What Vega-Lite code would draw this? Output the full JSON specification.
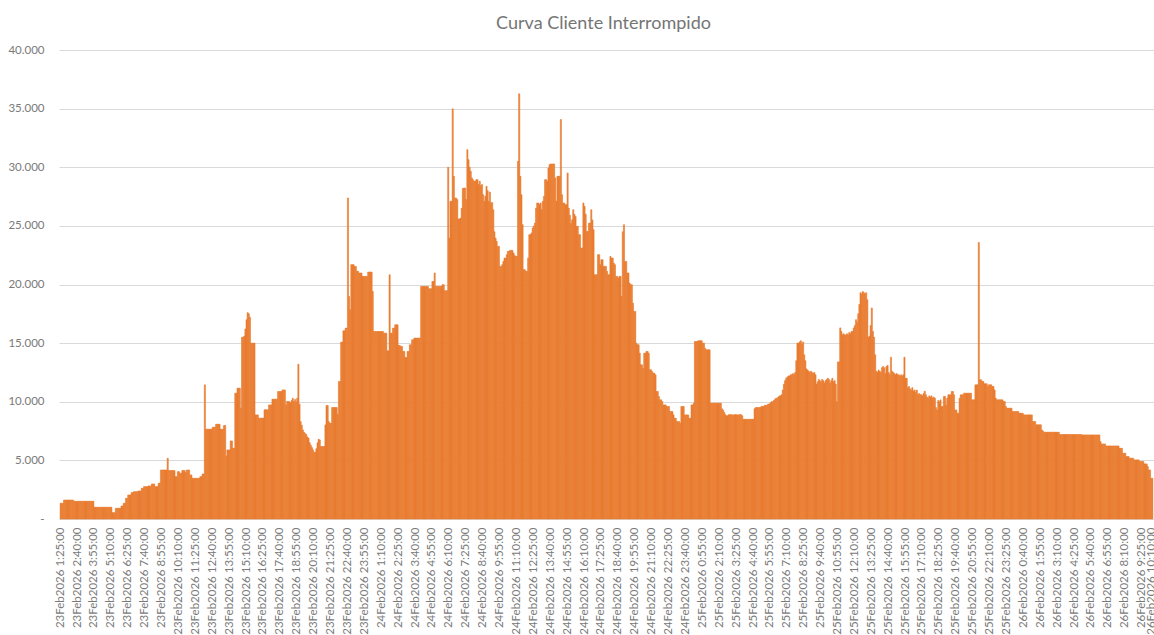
{
"$schema":"https://vega.github.io/schema/vega-lite/v6.json",
"width":1095,"height":469,
"autosize":{"type":"none"},
"padding":{"left":59,"top":50,"right":0,"bottom":116},
"background":"white",
"config":{"view":{"stroke":null},"font":"Lato"},
"title":{"text":"Curva Cliente Interrompido","fontSize":18,"font":"Lato","fontWeight":"normal","color":"#757575","anchor":"middle","baseline":"alphabetic","offset":19,"dx":-3,"dy":22},
"data":{"values":[
{"t":"23Feb2026 1:25:00","v":1340},{"t":"23Feb2026 1:30:00","v":1340},{"t":"23Feb2026 1:35:00","v":1340},{"t":"23Feb2026 1:40:00","v":1620},{"t":"23Feb2026 1:45:00","v":1620},{"t":"23Feb2026 1:50:00","v":1620},{"t":"23Feb2026 1:55:00","v":1620},
{"t":"23Feb2026 2:00:00","v":1620},{"t":"23Feb2026 2:05:00","v":1620},{"t":"23Feb2026 2:10:00","v":1620},{"t":"23Feb2026 2:15:00","v":1620},{"t":"23Feb2026 2:20:00","v":1620},{"t":"23Feb2026 2:25:00","v":1510},{"t":"23Feb2026 2:30:00","v":1510},{"t":"23Feb2026 2:35:00","v":1510},{"t":"23Feb2026 2:40:00","v":1510},{"t":"23Feb2026 2:45:00","v":1510},{"t":"23Feb2026 2:50:00","v":1510},{"t":"23Feb2026 2:55:00","v":1510},
{"t":"23Feb2026 3:00:00","v":1510},{"t":"23Feb2026 3:05:00","v":1510},{"t":"23Feb2026 3:10:00","v":1510},{"t":"23Feb2026 3:15:00","v":1510},{"t":"23Feb2026 3:20:00","v":1510},{"t":"23Feb2026 3:25:00","v":1510},{"t":"23Feb2026 3:30:00","v":1510},{"t":"23Feb2026 3:35:00","v":1510},{"t":"23Feb2026 3:40:00","v":1510},{"t":"23Feb2026 3:45:00","v":1510},{"t":"23Feb2026 3:50:00","v":1510},{"t":"23Feb2026 3:55:00","v":1000},
{"t":"23Feb2026 4:00:00","v":1000},{"t":"23Feb2026 4:05:00","v":1000},{"t":"23Feb2026 4:10:00","v":1000},{"t":"23Feb2026 4:15:00","v":1000},{"t":"23Feb2026 4:20:00","v":1000},{"t":"23Feb2026 4:25:00","v":1000},{"t":"23Feb2026 4:30:00","v":1000},{"t":"23Feb2026 4:35:00","v":1000},{"t":"23Feb2026 4:40:00","v":1000},{"t":"23Feb2026 4:45:00","v":1000},{"t":"23Feb2026 4:50:00","v":1000},{"t":"23Feb2026 4:55:00","v":1000},
{"t":"23Feb2026 5:00:00","v":1000},{"t":"23Feb2026 5:05:00","v":1000},{"t":"23Feb2026 5:10:00","v":1000},{"t":"23Feb2026 5:15:00","v":540},{"t":"23Feb2026 5:20:00","v":540},{"t":"23Feb2026 5:25:00","v":540},{"t":"23Feb2026 5:30:00","v":910},{"t":"23Feb2026 5:35:00","v":910},{"t":"23Feb2026 5:40:00","v":910},{"t":"23Feb2026 5:45:00","v":910},{"t":"23Feb2026 5:50:00","v":910},{"t":"23Feb2026 5:55:00","v":1110},
{"t":"23Feb2026 6:00:00","v":1110},{"t":"23Feb2026 6:05:00","v":1340},{"t":"23Feb2026 6:10:00","v":1340},{"t":"23Feb2026 6:15:00","v":1760},{"t":"23Feb2026 6:20:00","v":1760},{"t":"23Feb2026 6:25:00","v":2050},{"t":"23Feb2026 6:30:00","v":2050},{"t":"23Feb2026 6:35:00","v":2050},{"t":"23Feb2026 6:40:00","v":2250},{"t":"23Feb2026 6:45:00","v":2250},{"t":"23Feb2026 6:50:00","v":2330},{"t":"23Feb2026 6:55:00","v":2330},
{"t":"23Feb2026 7:00:00","v":2330},{"t":"23Feb2026 7:05:00","v":2330},{"t":"23Feb2026 7:10:00","v":2390},{"t":"23Feb2026 7:15:00","v":2390},{"t":"23Feb2026 7:20:00","v":2390},{"t":"23Feb2026 7:25:00","v":2620},{"t":"23Feb2026 7:30:00","v":2620},{"t":"23Feb2026 7:35:00","v":2760},{"t":"23Feb2026 7:40:00","v":2760},{"t":"23Feb2026 7:45:00","v":2760},{"t":"23Feb2026 7:50:00","v":2760},{"t":"23Feb2026 7:55:00","v":2820},
{"t":"23Feb2026 8:00:00","v":2820},{"t":"23Feb2026 8:05:00","v":2820},{"t":"23Feb2026 8:10:00","v":2990},{"t":"23Feb2026 8:15:00","v":2990},{"t":"23Feb2026 8:20:00","v":2990},{"t":"23Feb2026 8:25:00","v":2760},{"t":"23Feb2026 8:30:00","v":2760},{"t":"23Feb2026 8:35:00","v":2760},{"t":"23Feb2026 8:40:00","v":3050},{"t":"23Feb2026 8:45:00","v":3050},{"t":"23Feb2026 8:50:00","v":4180},{"t":"23Feb2026 8:55:00","v":4180},
{"t":"23Feb2026 9:00:00","v":4180},{"t":"23Feb2026 9:05:00","v":4180},{"t":"23Feb2026 9:10:00","v":4180},{"t":"23Feb2026 9:15:00","v":4180},{"t":"23Feb2026 9:20:00","v":5180},{"t":"23Feb2026 9:25:00","v":4130},{"t":"23Feb2026 9:30:00","v":4130},{"t":"23Feb2026 9:35:00","v":4130},{"t":"23Feb2026 9:40:00","v":4130},{"t":"23Feb2026 9:45:00","v":4130},{"t":"23Feb2026 9:50:00","v":4130},{"t":"23Feb2026 9:55:00","v":3610},
{"t":"23Feb2026 10:00:00","v":3610},{"t":"23Feb2026 10:05:00","v":4040},{"t":"23Feb2026 10:10:00","v":4040},{"t":"23Feb2026 10:15:00","v":3900},{"t":"23Feb2026 10:20:00","v":3900},{"t":"23Feb2026 10:25:00","v":4130},{"t":"23Feb2026 10:30:00","v":4130},{"t":"23Feb2026 10:35:00","v":4130},{"t":"23Feb2026 10:40:00","v":3960},{"t":"23Feb2026 10:45:00","v":4180},{"t":"23Feb2026 10:50:00","v":4180},{"t":"23Feb2026 10:55:00","v":4180},
{"t":"23Feb2026 11:00:00","v":3760},{"t":"23Feb2026 11:05:00","v":3760},{"t":"23Feb2026 11:10:00","v":3470},{"t":"23Feb2026 11:15:00","v":3470},{"t":"23Feb2026 11:20:00","v":3470},{"t":"23Feb2026 11:25:00","v":3470},{"t":"23Feb2026 11:30:00","v":3470},{"t":"23Feb2026 11:35:00","v":3470},{"t":"23Feb2026 11:40:00","v":3470},{"t":"23Feb2026 11:45:00","v":3610},{"t":"23Feb2026 11:50:00","v":3610},{"t":"23Feb2026 11:55:00","v":3840},
{"t":"23Feb2026 12:00:00","v":3840},{"t":"23Feb2026 12:05:00","v":11440},{"t":"23Feb2026 12:10:00","v":7660},{"t":"23Feb2026 12:15:00","v":7660},{"t":"23Feb2026 12:20:00","v":7660},{"t":"23Feb2026 12:25:00","v":7660},{"t":"23Feb2026 12:30:00","v":7660},{"t":"23Feb2026 12:35:00","v":7660},{"t":"23Feb2026 12:40:00","v":7830},{"t":"23Feb2026 12:45:00","v":7830},{"t":"23Feb2026 12:50:00","v":7830},{"t":"23Feb2026 12:55:00","v":8080},
{"t":"23Feb2026 13:00:00","v":8080},{"t":"23Feb2026 13:05:00","v":8080},{"t":"23Feb2026 13:10:00","v":8080},{"t":"23Feb2026 13:15:00","v":7660},{"t":"23Feb2026 13:20:00","v":7660},{"t":"23Feb2026 13:25:00","v":7660},{"t":"23Feb2026 13:30:00","v":7970},{"t":"23Feb2026 13:35:00","v":7970},{"t":"23Feb2026 13:40:00","v":5380},{"t":"23Feb2026 13:45:00","v":5890},{"t":"23Feb2026 13:50:00","v":5890},{"t":"23Feb2026 13:55:00","v":5890},
{"t":"23Feb2026 14:00:00","v":6660},{"t":"23Feb2026 14:05:00","v":6660},{"t":"23Feb2026 14:10:00","v":6030},{"t":"23Feb2026 14:15:00","v":6030},{"t":"23Feb2026 14:20:00","v":10730},{"t":"23Feb2026 14:25:00","v":10730},{"t":"23Feb2026 14:30:00","v":11160},{"t":"23Feb2026 14:35:00","v":11160},{"t":"23Feb2026 14:40:00","v":11160},{"t":"23Feb2026 14:45:00","v":9450},{"t":"23Feb2026 14:50:00","v":15500},{"t":"23Feb2026 14:55:00","v":15500},
{"t":"23Feb2026 15:00:00","v":15600},{"t":"23Feb2026 15:05:00","v":16200},{"t":"23Feb2026 15:10:00","v":17000},{"t":"23Feb2026 15:15:00","v":17600},{"t":"23Feb2026 15:20:00","v":17500},{"t":"23Feb2026 15:25:00","v":17200},{"t":"23Feb2026 15:30:00","v":15000},{"t":"23Feb2026 15:35:00","v":15000},{"t":"23Feb2026 15:40:00","v":15000},{"t":"23Feb2026 15:45:00","v":15000},{"t":"23Feb2026 15:50:00","v":8880},{"t":"23Feb2026 15:55:00","v":8880},
{"t":"23Feb2026 16:00:00","v":8880},{"t":"23Feb2026 16:05:00","v":8600},{"t":"23Feb2026 16:10:00","v":8600},{"t":"23Feb2026 16:15:00","v":8600},{"t":"23Feb2026 16:20:00","v":8600},{"t":"23Feb2026 16:25:00","v":8600},{"t":"23Feb2026 16:30:00","v":9310},{"t":"23Feb2026 16:35:00","v":9310},{"t":"23Feb2026 16:40:00","v":9310},{"t":"23Feb2026 16:45:00","v":9310},{"t":"23Feb2026 16:50:00","v":9730},{"t":"23Feb2026 16:55:00","v":9730},
{"t":"23Feb2026 17:00:00","v":9730},{"t":"23Feb2026 17:05:00","v":10220},{"t":"23Feb2026 17:10:00","v":10220},{"t":"23Feb2026 17:15:00","v":10220},{"t":"23Feb2026 17:20:00","v":10220},{"t":"23Feb2026 17:25:00","v":10220},{"t":"23Feb2026 17:30:00","v":10870},{"t":"23Feb2026 17:35:00","v":10870},{"t":"23Feb2026 17:40:00","v":10870},{"t":"23Feb2026 17:45:00","v":10870},{"t":"23Feb2026 17:50:00","v":11010},{"t":"23Feb2026 17:55:00","v":11010},
{"t":"23Feb2026 18:00:00","v":11010},{"t":"23Feb2026 18:05:00","v":9730},{"t":"23Feb2026 18:10:00","v":10020},{"t":"23Feb2026 18:15:00","v":10020},{"t":"23Feb2026 18:20:00","v":10000},{"t":"23Feb2026 18:25:00","v":9900},{"t":"23Feb2026 18:30:00","v":10100},{"t":"23Feb2026 18:35:00","v":10300},{"t":"23Feb2026 18:40:00","v":10000},{"t":"23Feb2026 18:45:00","v":10200},{"t":"23Feb2026 18:50:00","v":10000},{"t":"23Feb2026 18:55:00","v":10300},
{"t":"23Feb2026 19:00:00","v":13200},{"t":"23Feb2026 19:05:00","v":9800},{"t":"23Feb2026 19:10:00","v":8300},{"t":"23Feb2026 19:15:00","v":8000},{"t":"23Feb2026 19:20:00","v":7600},{"t":"23Feb2026 19:25:00","v":7400},{"t":"23Feb2026 19:30:00","v":7300},{"t":"23Feb2026 19:35:00","v":7200},{"t":"23Feb2026 19:40:00","v":7000},{"t":"23Feb2026 19:45:00","v":6900},{"t":"23Feb2026 19:50:00","v":6500},{"t":"23Feb2026 19:55:00","v":6300},
{"t":"23Feb2026 20:00:00","v":6100},{"t":"23Feb2026 20:05:00","v":5900},{"t":"23Feb2026 20:10:00","v":5700},{"t":"23Feb2026 20:15:00","v":5700},{"t":"23Feb2026 20:20:00","v":6000},{"t":"23Feb2026 20:25:00","v":6500},{"t":"23Feb2026 20:30:00","v":6800},{"t":"23Feb2026 20:35:00","v":6745},{"t":"23Feb2026 20:40:00","v":6176},{"t":"23Feb2026 20:45:00","v":6176},{"t":"23Feb2026 20:50:00","v":6176},{"t":"23Feb2026 20:55:00","v":6176},
{"t":"23Feb2026 21:00:00","v":8026},{"t":"23Feb2026 21:05:00","v":9676},{"t":"23Feb2026 21:10:00","v":9676},{"t":"23Feb2026 21:15:00","v":8310},{"t":"23Feb2026 21:20:00","v":8168},{"t":"23Feb2026 21:25:00","v":8168},{"t":"23Feb2026 21:30:00","v":9506},{"t":"23Feb2026 21:35:00","v":9506},{"t":"23Feb2026 21:40:00","v":9506},{"t":"23Feb2026 21:45:00","v":9506},{"t":"23Feb2026 21:50:00","v":9506},{"t":"23Feb2026 21:55:00","v":8937},
{"t":"23Feb2026 22:00:00","v":11725},{"t":"23Feb2026 22:05:00","v":11725},{"t":"23Feb2026 22:10:00","v":15084},{"t":"23Feb2026 22:15:00","v":15084},{"t":"23Feb2026 22:20:00","v":16050},{"t":"23Feb2026 22:25:00","v":16050},{"t":"23Feb2026 22:30:00","v":16280},{"t":"23Feb2026 22:35:00","v":16280},{"t":"23Feb2026 22:40:00","v":27380},{"t":"23Feb2026 22:45:00","v":18980},{"t":"23Feb2026 22:50:00","v":17840},{"t":"23Feb2026 22:55:00","v":21690},
{"t":"23Feb2026 23:00:00","v":21690},{"t":"23Feb2026 23:05:00","v":21690},{"t":"23Feb2026 23:10:00","v":21540},{"t":"23Feb2026 23:15:00","v":21540},{"t":"23Feb2026 23:20:00","v":21120},{"t":"23Feb2026 23:25:00","v":21120},{"t":"23Feb2026 23:30:00","v":20980},{"t":"23Feb2026 23:35:00","v":20980},{"t":"23Feb2026 23:40:00","v":20980},{"t":"23Feb2026 23:45:00","v":20690},{"t":"23Feb2026 23:50:00","v":20690},{"t":"23Feb2026 23:55:00","v":20690},
{"t":"24Feb2026 0:00:00","v":20690},{"t":"24Feb2026 0:05:00","v":20690},{"t":"24Feb2026 0:10:00","v":21060},{"t":"24Feb2026 0:15:00","v":21060},{"t":"24Feb2026 0:20:00","v":21060},{"t":"24Feb2026 0:25:00","v":21060},{"t":"24Feb2026 0:30:00","v":19410},{"t":"24Feb2026 0:35:00","v":15990},{"t":"24Feb2026 0:40:00","v":15990},{"t":"24Feb2026 0:45:00","v":15990},{"t":"24Feb2026 0:50:00","v":15990},{"t":"24Feb2026 0:55:00","v":15990},
{"t":"24Feb2026 1:00:00","v":15990},{"t":"24Feb2026 1:05:00","v":15990},{"t":"24Feb2026 1:10:00","v":15990},{"t":"24Feb2026 1:15:00","v":15990},{"t":"24Feb2026 1:20:00","v":15850},{"t":"24Feb2026 1:25:00","v":15850},{"t":"24Feb2026 1:30:00","v":15850},{"t":"24Feb2026 1:35:00","v":14340},{"t":"24Feb2026 1:40:00","v":14340},{"t":"24Feb2026 1:45:00","v":20830},{"t":"24Feb2026 1:50:00","v":15850},{"t":"24Feb2026 1:55:00","v":15850},
{"t":"24Feb2026 2:00:00","v":16280},{"t":"24Feb2026 2:05:00","v":16280},{"t":"24Feb2026 2:10:00","v":16560},{"t":"24Feb2026 2:15:00","v":16560},{"t":"24Feb2026 2:20:00","v":16560},{"t":"24Feb2026 2:25:00","v":14800},{"t":"24Feb2026 2:30:00","v":14800},{"t":"24Feb2026 2:35:00","v":14710},{"t":"24Feb2026 2:40:00","v":14710},{"t":"24Feb2026 2:45:00","v":14290},{"t":"24Feb2026 2:50:00","v":14290},{"t":"24Feb2026 2:55:00","v":13770},
{"t":"24Feb2026 3:00:00","v":13770},{"t":"24Feb2026 3:05:00","v":14290},{"t":"24Feb2026 3:10:00","v":14290},{"t":"24Feb2026 3:15:00","v":14860},{"t":"24Feb2026 3:20:00","v":14860},{"t":"24Feb2026 3:25:00","v":15280},{"t":"24Feb2026 3:30:00","v":15280},{"t":"24Feb2026 3:35:00","v":15430},{"t":"24Feb2026 3:40:00","v":15430},{"t":"24Feb2026 3:45:00","v":15430},{"t":"24Feb2026 3:50:00","v":15430},{"t":"24Feb2026 3:55:00","v":15430},
{"t":"24Feb2026 4:00:00","v":15430},{"t":"24Feb2026 4:05:00","v":19840},{"t":"24Feb2026 4:10:00","v":19840},{"t":"24Feb2026 4:15:00","v":19840},{"t":"24Feb2026 4:20:00","v":19840},{"t":"24Feb2026 4:25:00","v":19840},{"t":"24Feb2026 4:30:00","v":19840},{"t":"24Feb2026 4:35:00","v":19840},{"t":"24Feb2026 4:40:00","v":19640},{"t":"24Feb2026 4:45:00","v":19640},{"t":"24Feb2026 4:50:00","v":19640},{"t":"24Feb2026 4:55:00","v":20260},
{"t":"24Feb2026 5:00:00","v":20260},{"t":"24Feb2026 5:05:00","v":20980},{"t":"24Feb2026 5:10:00","v":19840},{"t":"24Feb2026 5:15:00","v":19840},{"t":"24Feb2026 5:20:00","v":19840},{"t":"24Feb2026 5:25:00","v":19840},{"t":"24Feb2026 5:30:00","v":19840},{"t":"24Feb2026 5:35:00","v":19840},{"t":"24Feb2026 5:40:00","v":19980},{"t":"24Feb2026 5:45:00","v":19980},{"t":"24Feb2026 5:50:00","v":19470},{"t":"24Feb2026 5:55:00","v":19470},
{"t":"24Feb2026 6:00:00","v":19470},{"t":"24Feb2026 6:05:00","v":30000},{"t":"24Feb2026 6:10:00","v":23960},{"t":"24Feb2026 6:15:00","v":27090},{"t":"24Feb2026 6:20:00","v":27090},{"t":"24Feb2026 6:25:00","v":34980},{"t":"24Feb2026 6:30:00","v":29230},{"t":"24Feb2026 6:35:00","v":27380},{"t":"24Feb2026 6:40:00","v":27380},{"t":"24Feb2026 6:45:00","v":27240},{"t":"24Feb2026 6:50:00","v":25590},{"t":"24Feb2026 6:55:00","v":25590},
{"t":"24Feb2026 7:00:00","v":25670},{"t":"24Feb2026 7:05:00","v":26500},{"t":"24Feb2026 7:10:00","v":28180},{"t":"24Feb2026 7:15:00","v":28230},{"t":"24Feb2026 7:20:00","v":28230},{"t":"24Feb2026 7:25:00","v":27240},{"t":"24Feb2026 7:30:00","v":31500},{"t":"24Feb2026 7:35:00","v":30650},{"t":"24Feb2026 7:40:00","v":30000},{"t":"24Feb2026 7:45:00","v":29660},{"t":"24Feb2026 7:50:00","v":29090},{"t":"24Feb2026 7:55:00","v":28940},
{"t":"24Feb2026 8:00:00","v":28800},{"t":"24Feb2026 8:05:00","v":28800},{"t":"24Feb2026 8:10:00","v":28940},{"t":"24Feb2026 8:15:00","v":28940},{"t":"24Feb2026 8:20:00","v":28520},{"t":"24Feb2026 8:25:00","v":28800},{"t":"24Feb2026 8:30:00","v":28430},{"t":"24Feb2026 8:35:00","v":28520},{"t":"24Feb2026 8:40:00","v":27660},{"t":"24Feb2026 8:45:00","v":27100},{"t":"24Feb2026 8:50:00","v":27520},{"t":"24Feb2026 8:55:00","v":28370},
{"t":"24Feb2026 9:00:00","v":28000},{"t":"24Feb2026 9:05:00","v":27090},{"t":"24Feb2026 9:10:00","v":27890},{"t":"24Feb2026 9:15:00","v":26950},{"t":"24Feb2026 9:20:00","v":27000},{"t":"24Feb2026 9:25:00","v":26380},{"t":"24Feb2026 9:30:00","v":24500},{"t":"24Feb2026 9:35:00","v":23960},{"t":"24Feb2026 9:40:00","v":23680},{"t":"24Feb2026 9:45:00","v":23250},{"t":"24Feb2026 9:50:00","v":23250},{"t":"24Feb2026 9:55:00","v":21540},
{"t":"24Feb2026 10:00:00","v":21540},{"t":"24Feb2026 10:05:00","v":21690},{"t":"24Feb2026 10:10:00","v":21970},{"t":"24Feb2026 10:15:00","v":22260},{"t":"24Feb2026 10:20:00","v":22260},{"t":"24Feb2026 10:25:00","v":22540},{"t":"24Feb2026 10:30:00","v":22830},{"t":"24Feb2026 10:35:00","v":22830},{"t":"24Feb2026 10:40:00","v":22910},{"t":"24Feb2026 10:45:00","v":22910},{"t":"24Feb2026 10:50:00","v":22910},{"t":"24Feb2026 10:55:00","v":22680},
{"t":"24Feb2026 11:00:00","v":22480},{"t":"24Feb2026 11:05:00","v":22400},{"t":"24Feb2026 11:10:00","v":22400},{"t":"24Feb2026 11:15:00","v":30510},{"t":"24Feb2026 11:20:00","v":36260},{"t":"24Feb2026 11:25:00","v":29230},{"t":"24Feb2026 11:30:00","v":27660},{"t":"24Feb2026 11:35:00","v":25100},{"t":"24Feb2026 11:40:00","v":21260},{"t":"24Feb2026 11:45:00","v":21260},{"t":"24Feb2026 11:50:00","v":21120},{"t":"24Feb2026 11:55:00","v":21120},
{"t":"24Feb2026 12:00:00","v":22260},{"t":"24Feb2026 12:05:00","v":24250},{"t":"24Feb2026 12:10:00","v":24250},{"t":"24Feb2026 12:15:00","v":24390},{"t":"24Feb2026 12:20:00","v":24820},{"t":"24Feb2026 12:25:00","v":25000},{"t":"24Feb2026 12:30:00","v":25240},{"t":"24Feb2026 12:35:00","v":26520},{"t":"24Feb2026 12:40:00","v":26950},{"t":"24Feb2026 12:45:00","v":26950},{"t":"24Feb2026 12:50:00","v":26810},{"t":"24Feb2026 12:55:00","v":26950},
{"t":"24Feb2026 13:00:00","v":26380},{"t":"24Feb2026 13:05:00","v":27090},{"t":"24Feb2026 13:10:00","v":27520},{"t":"24Feb2026 13:15:00","v":28940},{"t":"24Feb2026 13:20:00","v":28940},{"t":"24Feb2026 13:25:00","v":28800},{"t":"24Feb2026 13:30:00","v":29940},{"t":"24Feb2026 13:35:00","v":30220},{"t":"24Feb2026 13:40:00","v":30280},{"t":"24Feb2026 13:45:00","v":30280},{"t":"24Feb2026 13:50:00","v":30280},{"t":"24Feb2026 13:55:00","v":30280},
{"t":"24Feb2026 14:00:00","v":29090},{"t":"24Feb2026 14:05:00","v":27090},{"t":"24Feb2026 14:10:00","v":29230},{"t":"24Feb2026 14:15:00","v":29230},{"t":"24Feb2026 14:20:00","v":29230},{"t":"24Feb2026 14:25:00","v":34070},{"t":"24Feb2026 14:30:00","v":27660},{"t":"24Feb2026 14:35:00","v":26950},{"t":"24Feb2026 14:40:00","v":26950},{"t":"24Feb2026 14:45:00","v":26810},{"t":"24Feb2026 14:50:00","v":26810},{"t":"24Feb2026 14:55:00","v":29510},
{"t":"24Feb2026 15:00:00","v":26520},{"t":"24Feb2026 15:05:00","v":25900},{"t":"24Feb2026 15:10:00","v":25200},{"t":"24Feb2026 15:15:00","v":25530},{"t":"24Feb2026 15:20:00","v":26380},{"t":"24Feb2026 15:25:00","v":26000},{"t":"24Feb2026 15:30:00","v":25810},{"t":"24Feb2026 15:35:00","v":24960},{"t":"24Feb2026 15:40:00","v":24960},{"t":"24Feb2026 15:45:00","v":24250},{"t":"24Feb2026 15:50:00","v":24250},{"t":"24Feb2026 15:55:00","v":23110},
{"t":"24Feb2026 16:00:00","v":23110},{"t":"24Feb2026 16:05:00","v":26950},{"t":"24Feb2026 16:10:00","v":26670},{"t":"24Feb2026 16:15:00","v":26000},{"t":"24Feb2026 16:20:00","v":24530},{"t":"24Feb2026 16:25:00","v":24530},{"t":"24Feb2026 16:30:00","v":25240},{"t":"24Feb2026 16:35:00","v":25240},{"t":"24Feb2026 16:40:00","v":26380},{"t":"24Feb2026 16:45:00","v":25500},{"t":"24Feb2026 16:50:00","v":24670},{"t":"24Feb2026 16:55:00","v":20830},
{"t":"24Feb2026 17:00:00","v":20830},{"t":"24Feb2026 17:05:00","v":20830},{"t":"24Feb2026 17:10:00","v":22540},{"t":"24Feb2026 17:15:00","v":22540},{"t":"24Feb2026 17:20:00","v":21690},{"t":"24Feb2026 17:25:00","v":22110},{"t":"24Feb2026 17:30:00","v":22110},{"t":"24Feb2026 17:35:00","v":21540},{"t":"24Feb2026 17:40:00","v":21540},{"t":"24Feb2026 17:45:00","v":21540},{"t":"24Feb2026 17:50:00","v":21120},{"t":"24Feb2026 17:55:00","v":20830},
{"t":"24Feb2026 18:00:00","v":20830},{"t":"24Feb2026 18:05:00","v":22400},{"t":"24Feb2026 18:10:00","v":22260},{"t":"24Feb2026 18:15:00","v":22260},{"t":"24Feb2026 18:20:00","v":21830},{"t":"24Feb2026 18:25:00","v":21690},{"t":"24Feb2026 18:30:00","v":20690},{"t":"24Feb2026 18:35:00","v":20690},{"t":"24Feb2026 18:40:00","v":20550},{"t":"24Feb2026 18:45:00","v":20690},{"t":"24Feb2026 18:50:00","v":20690},{"t":"24Feb2026 18:55:00","v":18980},
{"t":"24Feb2026 19:00:00","v":24500},{"t":"24Feb2026 19:05:00","v":25100},{"t":"24Feb2026 19:10:00","v":21970},{"t":"24Feb2026 19:15:00","v":21970},{"t":"24Feb2026 19:20:00","v":20980},{"t":"24Feb2026 19:25:00","v":20980},{"t":"24Feb2026 19:30:00","v":20120},{"t":"24Feb2026 19:35:00","v":19980},{"t":"24Feb2026 19:40:00","v":19980},{"t":"24Feb2026 19:45:00","v":18410},{"t":"24Feb2026 19:50:00","v":17700},{"t":"24Feb2026 19:55:00","v":17700},
{"t":"24Feb2026 20:00:00","v":15000},{"t":"24Feb2026 20:05:00","v":14860},{"t":"24Feb2026 20:10:00","v":14860},{"t":"24Feb2026 20:15:00","v":14140},{"t":"24Feb2026 20:20:00","v":13150},{"t":"24Feb2026 20:25:00","v":13150},{"t":"24Feb2026 20:30:00","v":12860},{"t":"24Feb2026 20:35:00","v":14140},{"t":"24Feb2026 20:40:00","v":14140},{"t":"24Feb2026 20:45:00","v":14290},{"t":"24Feb2026 20:50:00","v":14290},{"t":"24Feb2026 20:55:00","v":14140},
{"t":"24Feb2026 21:00:00","v":12720},{"t":"24Feb2026 21:05:00","v":12720},{"t":"24Feb2026 21:10:00","v":12580},{"t":"24Feb2026 21:15:00","v":12440},{"t":"24Feb2026 21:20:00","v":12440},{"t":"24Feb2026 21:25:00","v":12290},{"t":"24Feb2026 21:30:00","v":10870},{"t":"24Feb2026 21:35:00","v":10870},{"t":"24Feb2026 21:40:00","v":10440},{"t":"24Feb2026 21:45:00","v":10160},{"t":"24Feb2026 21:50:00","v":10160},{"t":"24Feb2026 21:55:00","v":10020},
{"t":"24Feb2026 22:00:00","v":9730},{"t":"24Feb2026 22:05:00","v":9730},{"t":"24Feb2026 22:10:00","v":9730},{"t":"24Feb2026 22:15:00","v":9590},{"t":"24Feb2026 22:20:00","v":9590},{"t":"24Feb2026 22:25:00","v":9590},{"t":"24Feb2026 22:30:00","v":9160},{"t":"24Feb2026 22:35:00","v":9160},{"t":"24Feb2026 22:40:00","v":9160},{"t":"24Feb2026 22:45:00","v":8880},{"t":"24Feb2026 22:50:00","v":8590},{"t":"24Feb2026 22:55:00","v":8590},
{"t":"24Feb2026 23:00:00","v":8310},{"t":"24Feb2026 23:05:00","v":8310},{"t":"24Feb2026 23:10:00","v":8310},{"t":"24Feb2026 23:15:00","v":8170},{"t":"24Feb2026 23:20:00","v":9590},{"t":"24Feb2026 23:25:00","v":9590},{"t":"24Feb2026 23:30:00","v":9590},{"t":"24Feb2026 23:35:00","v":8880},{"t":"24Feb2026 23:40:00","v":8880},{"t":"24Feb2026 23:45:00","v":8880},{"t":"24Feb2026 23:50:00","v":8880},{"t":"24Feb2026 23:55:00","v":8590},
{"t":"25Feb2026 0:00:00","v":8590},{"t":"25Feb2026 0:05:00","v":9730},{"t":"25Feb2026 0:10:00","v":9730},{"t":"25Feb2026 0:15:00","v":9880},{"t":"25Feb2026 0:20:00","v":15140},{"t":"25Feb2026 0:25:00","v":15140},{"t":"25Feb2026 0:30:00","v":15140},{"t":"25Feb2026 0:35:00","v":15200},{"t":"25Feb2026 0:40:00","v":15200},{"t":"25Feb2026 0:45:00","v":15200},{"t":"25Feb2026 0:50:00","v":15200},{"t":"25Feb2026 0:55:00","v":15000},
{"t":"25Feb2026 1:00:00","v":15000},{"t":"25Feb2026 1:05:00","v":14570},{"t":"25Feb2026 1:10:00","v":14430},{"t":"25Feb2026 1:15:00","v":14430},{"t":"25Feb2026 1:20:00","v":14430},{"t":"25Feb2026 1:25:00","v":14430},{"t":"25Feb2026 1:30:00","v":9880},{"t":"25Feb2026 1:35:00","v":9880},{"t":"25Feb2026 1:40:00","v":9880},{"t":"25Feb2026 1:45:00","v":9880},{"t":"25Feb2026 1:50:00","v":9880},{"t":"25Feb2026 1:55:00","v":9880},
{"t":"25Feb2026 2:00:00","v":9880},{"t":"25Feb2026 2:05:00","v":9880},{"t":"25Feb2026 2:10:00","v":9880},{"t":"25Feb2026 2:15:00","v":9880},{"t":"25Feb2026 2:20:00","v":9400},{"t":"25Feb2026 2:25:00","v":9300},{"t":"25Feb2026 2:30:00","v":9100},{"t":"25Feb2026 2:35:00","v":8900},{"t":"25Feb2026 2:40:00","v":8800},{"t":"25Feb2026 2:45:00","v":8800},{"t":"25Feb2026 2:50:00","v":8900},{"t":"25Feb2026 2:55:00","v":8900},
{"t":"25Feb2026 3:00:00","v":8900},{"t":"25Feb2026 3:05:00","v":8900},{"t":"25Feb2026 3:10:00","v":8850},{"t":"25Feb2026 3:15:00","v":8900},{"t":"25Feb2026 3:20:00","v":8900},{"t":"25Feb2026 3:25:00","v":8900},{"t":"25Feb2026 3:30:00","v":8850},{"t":"25Feb2026 3:35:00","v":8900},{"t":"25Feb2026 3:40:00","v":8900},{"t":"25Feb2026 3:45:00","v":8900},{"t":"25Feb2026 3:50:00","v":8800},{"t":"25Feb2026 3:55:00","v":8500},
{"t":"25Feb2026 4:00:00","v":8500},{"t":"25Feb2026 4:05:00","v":8500},{"t":"25Feb2026 4:10:00","v":8500},{"t":"25Feb2026 4:15:00","v":8500},{"t":"25Feb2026 4:20:00","v":8500},{"t":"25Feb2026 4:25:00","v":8500},{"t":"25Feb2026 4:30:00","v":8500},{"t":"25Feb2026 4:35:00","v":8500},{"t":"25Feb2026 4:40:00","v":8500},{"t":"25Feb2026 4:45:00","v":9400},{"t":"25Feb2026 4:50:00","v":9500},{"t":"25Feb2026 4:55:00","v":9500},
{"t":"25Feb2026 5:00:00","v":9500},{"t":"25Feb2026 5:05:00","v":9500},{"t":"25Feb2026 5:10:00","v":9500},{"t":"25Feb2026 5:15:00","v":9600},{"t":"25Feb2026 5:20:00","v":9600},{"t":"25Feb2026 5:25:00","v":9600},{"t":"25Feb2026 5:30:00","v":9700},{"t":"25Feb2026 5:35:00","v":9700},{"t":"25Feb2026 5:40:00","v":9700},{"t":"25Feb2026 5:45:00","v":9800},{"t":"25Feb2026 5:50:00","v":9800},{"t":"25Feb2026 5:55:00","v":9900},
{"t":"25Feb2026 6:00:00","v":10000},{"t":"25Feb2026 6:05:00","v":10000},{"t":"25Feb2026 6:10:00","v":10100},{"t":"25Feb2026 6:15:00","v":10200},{"t":"25Feb2026 6:20:00","v":10300},{"t":"25Feb2026 6:25:00","v":10300},{"t":"25Feb2026 6:30:00","v":10400},{"t":"25Feb2026 6:35:00","v":10500},{"t":"25Feb2026 6:40:00","v":10500},{"t":"25Feb2026 6:45:00","v":10600},{"t":"25Feb2026 6:50:00","v":11000},{"t":"25Feb2026 6:55:00","v":11500},
{"t":"25Feb2026 7:00:00","v":11800},{"t":"25Feb2026 7:05:00","v":12000},{"t":"25Feb2026 7:10:00","v":12100},{"t":"25Feb2026 7:15:00","v":12200},{"t":"25Feb2026 7:20:00","v":12200},{"t":"25Feb2026 7:25:00","v":12300},{"t":"25Feb2026 7:30:00","v":12300},{"t":"25Feb2026 7:35:00","v":12400},{"t":"25Feb2026 7:40:00","v":12300},{"t":"25Feb2026 7:45:00","v":12500},{"t":"25Feb2026 7:50:00","v":13500},{"t":"25Feb2026 7:55:00","v":15000},
{"t":"25Feb2026 8:00:00","v":15000},{"t":"25Feb2026 8:05:00","v":15100},{"t":"25Feb2026 8:10:00","v":15200},{"t":"25Feb2026 8:15:00","v":14900},{"t":"25Feb2026 8:20:00","v":15100},{"t":"25Feb2026 8:25:00","v":14000},{"t":"25Feb2026 8:30:00","v":13500},{"t":"25Feb2026 8:35:00","v":12800},{"t":"25Feb2026 8:40:00","v":12700},{"t":"25Feb2026 8:45:00","v":12600},{"t":"25Feb2026 8:50:00","v":12500},{"t":"25Feb2026 8:55:00","v":12600},
{"t":"25Feb2026 9:00:00","v":12500},{"t":"25Feb2026 9:05:00","v":12400},{"t":"25Feb2026 9:10:00","v":12500},{"t":"25Feb2026 9:15:00","v":12300},{"t":"25Feb2026 9:20:00","v":11500},{"t":"25Feb2026 9:25:00","v":11700},{"t":"25Feb2026 9:30:00","v":11900},{"t":"25Feb2026 9:35:00","v":11800},{"t":"25Feb2026 9:40:00","v":11700},{"t":"25Feb2026 9:45:00","v":11900},{"t":"25Feb2026 9:50:00","v":11800},{"t":"25Feb2026 9:55:00","v":11600},
{"t":"25Feb2026 10:00:00","v":11800},{"t":"25Feb2026 10:05:00","v":11900},{"t":"25Feb2026 10:10:00","v":12000},{"t":"25Feb2026 10:15:00","v":11900},{"t":"25Feb2026 10:20:00","v":11600},{"t":"25Feb2026 10:25:00","v":11800},{"t":"25Feb2026 10:30:00","v":12000},{"t":"25Feb2026 10:35:00","v":11700},{"t":"25Feb2026 10:40:00","v":11800},{"t":"25Feb2026 10:45:00","v":11500},{"t":"25Feb2026 10:50:00","v":10000},{"t":"25Feb2026 10:55:00","v":13400},
{"t":"25Feb2026 11:00:00","v":13400},{"t":"25Feb2026 11:05:00","v":16300},{"t":"25Feb2026 11:10:00","v":16000},{"t":"25Feb2026 11:15:00","v":15700},{"t":"25Feb2026 11:20:00","v":15800},{"t":"25Feb2026 11:25:00","v":15700},{"t":"25Feb2026 11:30:00","v":15700},{"t":"25Feb2026 11:35:00","v":15800},{"t":"25Feb2026 11:40:00","v":15700},{"t":"25Feb2026 11:45:00","v":15900},{"t":"25Feb2026 11:50:00","v":15800},{"t":"25Feb2026 11:55:00","v":16000},
{"t":"25Feb2026 12:00:00","v":16000},{"t":"25Feb2026 12:05:00","v":16300},{"t":"25Feb2026 12:10:00","v":16500},{"t":"25Feb2026 12:15:00","v":17000},{"t":"25Feb2026 12:20:00","v":16800},{"t":"25Feb2026 12:25:00","v":17500},{"t":"25Feb2026 12:30:00","v":18300},{"t":"25Feb2026 12:35:00","v":19300},{"t":"25Feb2026 12:40:00","v":19200},{"t":"25Feb2026 12:45:00","v":19400},{"t":"25Feb2026 12:50:00","v":19300},{"t":"25Feb2026 12:55:00","v":19200},
{"t":"25Feb2026 13:00:00","v":19300},{"t":"25Feb2026 13:05:00","v":18700},{"t":"25Feb2026 13:10:00","v":15500},{"t":"25Feb2026 13:15:00","v":15600},{"t":"25Feb2026 13:20:00","v":16500},{"t":"25Feb2026 13:25:00","v":18000},{"t":"25Feb2026 13:30:00","v":16000},{"t":"25Feb2026 13:35:00","v":15500},{"t":"25Feb2026 13:40:00","v":14000},{"t":"25Feb2026 13:45:00","v":12600},{"t":"25Feb2026 13:50:00","v":12500},{"t":"25Feb2026 13:55:00","v":12700},
{"t":"25Feb2026 14:00:00","v":12600},{"t":"25Feb2026 14:05:00","v":12500},{"t":"25Feb2026 14:10:00","v":12900},{"t":"25Feb2026 14:15:00","v":13000},{"t":"25Feb2026 14:20:00","v":12900},{"t":"25Feb2026 14:25:00","v":12400},{"t":"25Feb2026 14:30:00","v":13000},{"t":"25Feb2026 14:35:00","v":13100},{"t":"25Feb2026 14:40:00","v":12500},{"t":"25Feb2026 14:45:00","v":12300},{"t":"25Feb2026 14:50:00","v":13800},{"t":"25Feb2026 14:55:00","v":12600},
{"t":"25Feb2026 15:00:00","v":12500},{"t":"25Feb2026 15:05:00","v":12400},{"t":"25Feb2026 15:10:00","v":12300},{"t":"25Feb2026 15:15:00","v":12400},{"t":"25Feb2026 15:20:00","v":12300},{"t":"25Feb2026 15:25:00","v":12300},{"t":"25Feb2026 15:30:00","v":12200},{"t":"25Feb2026 15:35:00","v":12300},{"t":"25Feb2026 15:40:00","v":12200},{"t":"25Feb2026 15:45:00","v":12300},{"t":"25Feb2026 15:50:00","v":13800},{"t":"25Feb2026 15:55:00","v":12000},
{"t":"25Feb2026 16:00:00","v":12000},{"t":"25Feb2026 16:05:00","v":11200},{"t":"25Feb2026 16:10:00","v":11300},{"t":"25Feb2026 16:15:00","v":11100},{"t":"25Feb2026 16:20:00","v":11000},{"t":"25Feb2026 16:25:00","v":11200},{"t":"25Feb2026 16:30:00","v":10900},{"t":"25Feb2026 16:35:00","v":11000},{"t":"25Feb2026 16:40:00","v":10800},{"t":"25Feb2026 16:45:00","v":11000},{"t":"25Feb2026 16:50:00","v":10600},{"t":"25Feb2026 16:55:00","v":10700},
{"t":"25Feb2026 17:00:00","v":10600},{"t":"25Feb2026 17:05:00","v":10600},{"t":"25Feb2026 17:10:00","v":10500},{"t":"25Feb2026 17:15:00","v":10700},{"t":"25Feb2026 17:20:00","v":10900},{"t":"25Feb2026 17:25:00","v":10600},{"t":"25Feb2026 17:30:00","v":10400},{"t":"25Feb2026 17:35:00","v":10300},{"t":"25Feb2026 17:40:00","v":10500},{"t":"25Feb2026 17:45:00","v":10400},{"t":"25Feb2026 17:50:00","v":10500},{"t":"25Feb2026 17:55:00","v":10300},
{"t":"25Feb2026 18:00:00","v":10400},{"t":"25Feb2026 18:05:00","v":10300},{"t":"25Feb2026 18:10:00","v":9500},{"t":"25Feb2026 18:15:00","v":9300},{"t":"25Feb2026 18:20:00","v":10100},{"t":"25Feb2026 18:25:00","v":10000},{"t":"25Feb2026 18:30:00","v":10160},{"t":"25Feb2026 18:35:00","v":9590},{"t":"25Feb2026 18:40:00","v":9590},{"t":"25Feb2026 18:45:00","v":10440},{"t":"25Feb2026 18:50:00","v":10440},{"t":"25Feb2026 18:55:00","v":9730},
{"t":"25Feb2026 19:00:00","v":10300},{"t":"25Feb2026 19:05:00","v":10590},{"t":"25Feb2026 19:10:00","v":10590},{"t":"25Feb2026 19:15:00","v":10590},{"t":"25Feb2026 19:20:00","v":10870},{"t":"25Feb2026 19:25:00","v":10870},{"t":"25Feb2026 19:30:00","v":10590},{"t":"25Feb2026 19:35:00","v":9300},{"t":"25Feb2026 19:40:00","v":9300},{"t":"25Feb2026 19:45:00","v":9020},{"t":"25Feb2026 19:50:00","v":9020},{"t":"25Feb2026 19:55:00","v":10300},
{"t":"25Feb2026 20:00:00","v":10590},{"t":"25Feb2026 20:05:00","v":10590},{"t":"25Feb2026 20:10:00","v":10590},{"t":"25Feb2026 20:15:00","v":10730},{"t":"25Feb2026 20:20:00","v":10730},{"t":"25Feb2026 20:25:00","v":10730},{"t":"25Feb2026 20:30:00","v":10730},{"t":"25Feb2026 20:35:00","v":10730},{"t":"25Feb2026 20:40:00","v":10730},{"t":"25Feb2026 20:45:00","v":10730},{"t":"25Feb2026 20:50:00","v":10160},{"t":"25Feb2026 20:55:00","v":10160},
{"t":"25Feb2026 21:00:00","v":10160},{"t":"25Feb2026 21:05:00","v":11440},{"t":"25Feb2026 21:10:00","v":11440},{"t":"25Feb2026 21:15:00","v":11440},{"t":"25Feb2026 21:20:00","v":23590},{"t":"25Feb2026 21:25:00","v":11870},{"t":"25Feb2026 21:30:00","v":11870},{"t":"25Feb2026 21:35:00","v":11730},{"t":"25Feb2026 21:40:00","v":11730},{"t":"25Feb2026 21:45:00","v":11530},{"t":"25Feb2026 21:50:00","v":11530},{"t":"25Feb2026 21:55:00","v":11530},
{"t":"25Feb2026 22:00:00","v":11300},{"t":"25Feb2026 22:05:00","v":11440},{"t":"25Feb2026 22:10:00","v":11440},{"t":"25Feb2026 22:15:00","v":11440},{"t":"25Feb2026 22:20:00","v":11300},{"t":"25Feb2026 22:25:00","v":11300},{"t":"25Feb2026 22:30:00","v":11010},{"t":"25Feb2026 22:35:00","v":10300},{"t":"25Feb2026 22:40:00","v":10160},{"t":"25Feb2026 22:45:00","v":10160},{"t":"25Feb2026 22:50:00","v":10160},{"t":"25Feb2026 22:55:00","v":10160},
{"t":"25Feb2026 23:00:00","v":10160},{"t":"25Feb2026 23:05:00","v":10160},{"t":"25Feb2026 23:10:00","v":10020},{"t":"25Feb2026 23:15:00","v":10020},{"t":"25Feb2026 23:20:00","v":9590},{"t":"25Feb2026 23:25:00","v":9450},{"t":"25Feb2026 23:30:00","v":9450},{"t":"25Feb2026 23:35:00","v":9450},{"t":"25Feb2026 23:40:00","v":9450},{"t":"25Feb2026 23:45:00","v":9450},{"t":"25Feb2026 23:50:00","v":9160},{"t":"25Feb2026 23:55:00","v":9160},
{"t":"26Feb2026 0:00:00","v":9160},{"t":"26Feb2026 0:05:00","v":9160},{"t":"26Feb2026 0:10:00","v":9160},{"t":"26Feb2026 0:15:00","v":9160},{"t":"26Feb2026 0:20:00","v":9020},{"t":"26Feb2026 0:25:00","v":9020},{"t":"26Feb2026 0:30:00","v":9020},{"t":"26Feb2026 0:35:00","v":9020},{"t":"26Feb2026 0:40:00","v":8880},{"t":"26Feb2026 0:45:00","v":8880},{"t":"26Feb2026 0:50:00","v":8880},{"t":"26Feb2026 0:55:00","v":8880},
{"t":"26Feb2026 1:00:00","v":8880},{"t":"26Feb2026 1:05:00","v":8880},{"t":"26Feb2026 1:10:00","v":8880},{"t":"26Feb2026 1:15:00","v":8880},{"t":"26Feb2026 1:20:00","v":8310},{"t":"26Feb2026 1:25:00","v":8310},{"t":"26Feb2026 1:30:00","v":8310},{"t":"26Feb2026 1:35:00","v":8030},{"t":"26Feb2026 1:40:00","v":8030},{"t":"26Feb2026 1:45:00","v":8030},{"t":"26Feb2026 1:50:00","v":8030},{"t":"26Feb2026 1:55:00","v":8030},
{"t":"26Feb2026 2:00:00","v":7600},{"t":"26Feb2026 2:05:00","v":7500},{"t":"26Feb2026 2:10:00","v":7400},{"t":"26Feb2026 2:15:00","v":7400},{"t":"26Feb2026 2:20:00","v":7400},{"t":"26Feb2026 2:25:00","v":7400},{"t":"26Feb2026 2:30:00","v":7400},{"t":"26Feb2026 2:35:00","v":7400},{"t":"26Feb2026 2:40:00","v":7400},{"t":"26Feb2026 2:45:00","v":7400},{"t":"26Feb2026 2:50:00","v":7400},{"t":"26Feb2026 2:55:00","v":7400},
{"t":"26Feb2026 3:00:00","v":7400},{"t":"26Feb2026 3:05:00","v":7400},{"t":"26Feb2026 3:10:00","v":7400},{"t":"26Feb2026 3:15:00","v":7400},{"t":"26Feb2026 3:20:00","v":7200},{"t":"26Feb2026 3:25:00","v":7200},{"t":"26Feb2026 3:30:00","v":7200},{"t":"26Feb2026 3:35:00","v":7200},{"t":"26Feb2026 3:40:00","v":7200},{"t":"26Feb2026 3:45:00","v":7200},{"t":"26Feb2026 3:50:00","v":7200},{"t":"26Feb2026 3:55:00","v":7200},
{"t":"26Feb2026 4:00:00","v":7200},{"t":"26Feb2026 4:05:00","v":7200},{"t":"26Feb2026 4:10:00","v":7200},{"t":"26Feb2026 4:15:00","v":7200},{"t":"26Feb2026 4:20:00","v":7200},{"t":"26Feb2026 4:25:00","v":7200},{"t":"26Feb2026 4:30:00","v":7200},{"t":"26Feb2026 4:35:00","v":7200},{"t":"26Feb2026 4:40:00","v":7200},{"t":"26Feb2026 4:45:00","v":7200},{"t":"26Feb2026 4:50:00","v":7200},{"t":"26Feb2026 4:55:00","v":7200},
{"t":"26Feb2026 5:00:00","v":7170},{"t":"26Feb2026 5:05:00","v":7170},{"t":"26Feb2026 5:10:00","v":7170},{"t":"26Feb2026 5:15:00","v":7170},{"t":"26Feb2026 5:20:00","v":7170},{"t":"26Feb2026 5:25:00","v":7170},{"t":"26Feb2026 5:30:00","v":7170},{"t":"26Feb2026 5:35:00","v":7170},{"t":"26Feb2026 5:40:00","v":7170},{"t":"26Feb2026 5:45:00","v":7170},{"t":"26Feb2026 5:50:00","v":7170},{"t":"26Feb2026 5:55:00","v":7170},
{"t":"26Feb2026 6:00:00","v":7170},{"t":"26Feb2026 6:05:00","v":7170},{"t":"26Feb2026 6:10:00","v":7170},{"t":"26Feb2026 6:15:00","v":7170},{"t":"26Feb2026 6:20:00","v":6600},{"t":"26Feb2026 6:25:00","v":6400},{"t":"26Feb2026 6:30:00","v":6400},{"t":"26Feb2026 6:35:00","v":6400},{"t":"26Feb2026 6:40:00","v":6400},{"t":"26Feb2026 6:45:00","v":6230},{"t":"26Feb2026 6:50:00","v":6230},{"t":"26Feb2026 6:55:00","v":6230},
{"t":"26Feb2026 7:00:00","v":6230},{"t":"26Feb2026 7:05:00","v":6230},{"t":"26Feb2026 7:10:00","v":6230},{"t":"26Feb2026 7:15:00","v":6230},{"t":"26Feb2026 7:20:00","v":6230},{"t":"26Feb2026 7:25:00","v":6230},{"t":"26Feb2026 7:30:00","v":6230},{"t":"26Feb2026 7:35:00","v":6230},{"t":"26Feb2026 7:40:00","v":6230},{"t":"26Feb2026 7:45:00","v":6030},{"t":"26Feb2026 7:50:00","v":6030},{"t":"26Feb2026 7:55:00","v":6030},
{"t":"26Feb2026 8:00:00","v":5610},{"t":"26Feb2026 8:05:00","v":5610},{"t":"26Feb2026 8:10:00","v":5610},{"t":"26Feb2026 8:15:00","v":5320},{"t":"26Feb2026 8:20:00","v":5320},{"t":"26Feb2026 8:25:00","v":5320},{"t":"26Feb2026 8:30:00","v":5180},{"t":"26Feb2026 8:35:00","v":5180},{"t":"26Feb2026 8:40:00","v":5180},{"t":"26Feb2026 8:45:00","v":5180},{"t":"26Feb2026 8:50:00","v":5040},{"t":"26Feb2026 8:55:00","v":5040},
{"t":"26Feb2026 9:00:00","v":5040},{"t":"26Feb2026 9:05:00","v":5040},{"t":"26Feb2026 9:10:00","v":5040},{"t":"26Feb2026 9:15:00","v":4900},{"t":"26Feb2026 9:20:00","v":4900},{"t":"26Feb2026 9:25:00","v":4900},{"t":"26Feb2026 9:30:00","v":4900},{"t":"26Feb2026 9:35:00","v":4700},{"t":"26Feb2026 9:40:00","v":4700},{"t":"26Feb2026 9:45:00","v":4700},{"t":"26Feb2026 9:50:00","v":4470},{"t":"26Feb2026 9:55:00","v":4180},
{"t":"26Feb2026 10:00:00","v":4180},{"t":"26Feb2026 10:05:00","v":3470},{"t":"26Feb2026 10:10:00","v":3470}
]},
"mark":{"type":"bar","color":"#E97C30","opacity":1,"stroke":"#E97C30","strokeWidth":0.6},
"encoding":{
"x":{"field":"t","type":"ordinal","sort":null,"title":null,
"scale":{"paddingInner":0,"paddingOuter":2.2},
"axis":{"labelAngle":-90,"labelFont":"Lato","labelFontSize":11.5,"labelColor":"#7a7a7a","labelPadding":8,"ticks":false,"domainColor":"#d9d9d9","domainWidth":1,"labelOverlap":false,"labelBound":false,"grid":false,
"values":["23Feb2026 1:25:00","23Feb2026 2:40:00","23Feb2026 3:55:00","23Feb2026 5:10:00","23Feb2026 6:25:00","23Feb2026 7:40:00","23Feb2026 8:55:00","23Feb2026 10:10:00","23Feb2026 11:25:00","23Feb2026 12:40:00","23Feb2026 13:55:00","23Feb2026 15:10:00","23Feb2026 16:25:00","23Feb2026 17:40:00","23Feb2026 18:55:00","23Feb2026 20:10:00","23Feb2026 21:25:00","23Feb2026 22:40:00","23Feb2026 23:55:00","24Feb2026 1:10:00","24Feb2026 2:25:00","24Feb2026 3:40:00","24Feb2026 4:55:00","24Feb2026 6:10:00","24Feb2026 7:25:00","24Feb2026 8:40:00","24Feb2026 9:55:00","24Feb2026 11:10:00","24Feb2026 12:25:00","24Feb2026 13:40:00","24Feb2026 14:55:00","24Feb2026 16:10:00","24Feb2026 17:25:00","24Feb2026 18:40:00","24Feb2026 19:55:00","24Feb2026 21:10:00","24Feb2026 22:25:00","24Feb2026 23:40:00","25Feb2026 0:55:00","25Feb2026 2:10:00","25Feb2026 3:25:00","25Feb2026 4:40:00","25Feb2026 5:55:00","25Feb2026 7:10:00","25Feb2026 8:25:00","25Feb2026 9:40:00","25Feb2026 10:55:00","25Feb2026 12:10:00","25Feb2026 13:25:00","25Feb2026 14:40:00","25Feb2026 15:55:00","25Feb2026 17:10:00","25Feb2026 18:25:00","25Feb2026 19:40:00","25Feb2026 20:55:00","25Feb2026 22:10:00","25Feb2026 23:25:00","26Feb2026 0:40:00","26Feb2026 1:55:00","26Feb2026 3:10:00","26Feb2026 4:25:00","26Feb2026 5:40:00","26Feb2026 6:55:00","26Feb2026 8:10:00","26Feb2026 9:25:00","26Feb2026 10:10:00"]}},
"y":{"field":"v","type":"quantitative","title":null,
"scale":{"domain":[0,40000],"nice":false},
"axis":{"values":[0,5000,10000,15000,20000,25000,30000,35000,40000],"labelFont":"Lato","labelFontSize":11.5,"labelColor":"#7a7a7a","labelPadding":15,"ticks":false,"domain":false,"gridColor":"#d9d9d9","gridWidth":1,
"labelExpr":"datum.value == 0 ? '-\u00a0\u00a0' : replace(format(datum.value, ','), ',', '.')"}}
}
}
